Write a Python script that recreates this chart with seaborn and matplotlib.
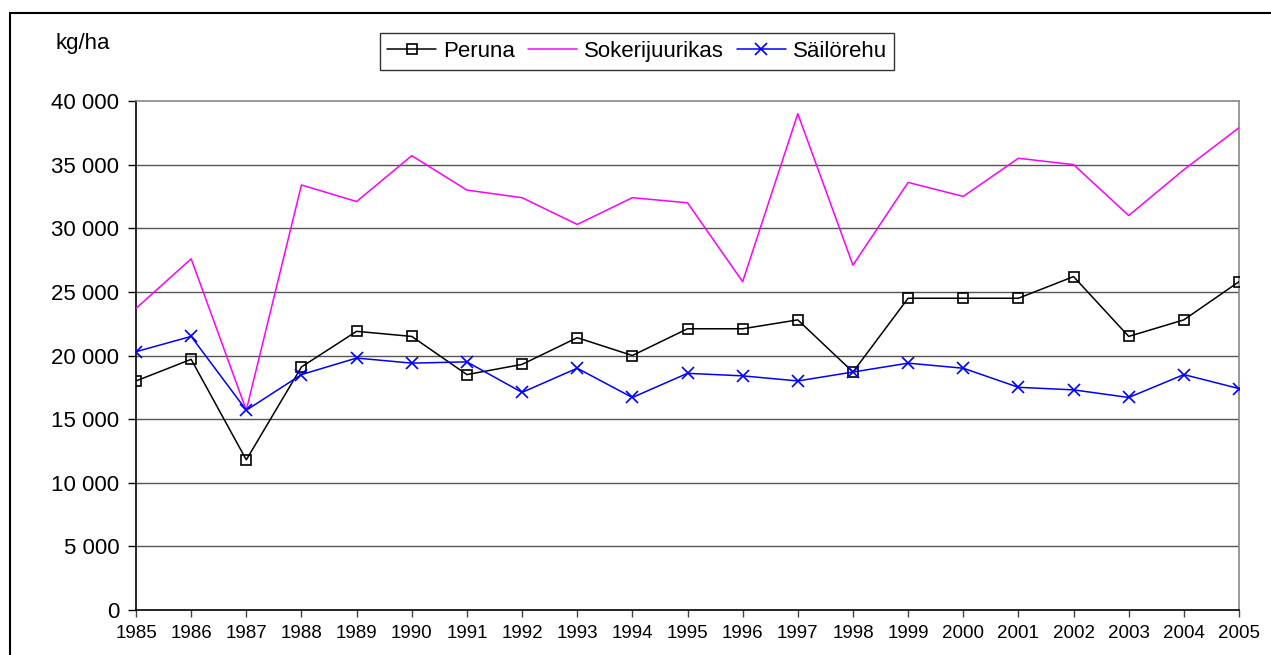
import matplotlib
matplotlib.use("Agg")
import matplotlib.pyplot as plt
import matplotlib.ticker as mticker
from matplotlib.patches import Rectangle
import seaborn as sns
import pandas as pd

years = list(range(1985, 2006))
peruna = [18000, 19700, 11800, 19100, 21900, 21500, 18500, 19300, 21400, 20000,
          22100, 22100, 22800, 18700, 24500, 24500, 24500, 26200, 21500, 22800, 25800]
sokerijuurikas = [23700, 27600, 15700, 33400, 32100, 35700, 33000, 32400, 30300, 32400,
                  32000, 25800, 39000, 27100, 33600, 32500, 35500, 35000, 31000, 34600, 37900]
sailorehu = [20300, 21500, 15700, 18500, 19800, 19400, 19500, 17100, 19000, 16700,
             18600, 18400, 18000, 18700, 19400, 19000, 17500, 17300, 16700, 18500, 17400]
series_names = ["Peruna", "Sokerijuurikas", "Säilörehu"]
y_ticks = [0, 5000, 10000, 15000, 20000, 25000, 30000, 35000, 40000]
unit_label = "kg/ha"

sns.set_theme(style="white")
plt.rcParams['font.family'] = ['Liberation Sans', 'DejaVu Sans']
plt.rcParams['text.color'] = 'black'
plt.rcParams['xtick.color'] = 'black'
plt.rcParams['ytick.color'] = 'black'
plt.rcParams['axes.labelcolor'] = 'black'

df = pd.DataFrame({"year": years, "Peruna": peruna,
                   "Sokerijuurikas": sokerijuurikas, "Säilörehu": sailorehu})

fig = plt.figure(figsize=(12.71, 6.55), dpi=100)
ax = fig.add_axes([136/1271, 1-610/655, (1239-136)/1271, (610-101)/655])

for yv in y_ticks[1:-1]:
    ax.axhline(yv, color="#555555", lw=1.0, zorder=1)

sns.lineplot(data=df, x="year", y="Peruna", ax=ax, color="black", lw=1.1,
             marker="s", markersize=7, markerfacecolor="none", markeredgecolor="black",
             markeredgewidth=1.2, label=series_names[0], zorder=3)
sns.lineplot(data=df, x="year", y="Sokerijuurikas", ax=ax, color="#FF00FF", lw=1.1,
             label=series_names[1], zorder=3)
sns.lineplot(data=df, x="year", y="Säilörehu", ax=ax, color="#0000FF", lw=1.1,
             marker="x", markersize=9, markeredgecolor="#0000FF", markeredgewidth=1.2,
             label=series_names[2], zorder=3)

ax.set_xlim(1985, 2005)
ax.set_ylim(0, 40000)
ax.set_xticks(years)
ax.set_xticklabels([str(y) for y in years], fontsize=13.5)
ax.set_yticks(y_ticks)
ax.yaxis.set_major_formatter(mticker.FuncFormatter(lambda v, p: f"{int(v):,}".replace(",", " ")))
ax.tick_params(axis="y", labelsize=16, length=6, width=1, color="black", labelcolor="black",
               direction="out", left=True, pad=6)
ax.tick_params(axis="x", length=5, width=1, color="#444444", labelcolor="black",
               direction="out", bottom=True, pad=6)
ax.set_xlabel("")
ax.set_ylabel("")

for s in ["left", "bottom"]:
    ax.spines[s].set_color("black")
    ax.spines[s].set_linewidth(1.2)
for s in ["top", "right"]:
    ax.spines[s].set_color("#888888")
    ax.spines[s].set_linewidth(1.2)
    ax.spines[s].set_visible(True)

leg = ax.legend(loc="center", bbox_to_anchor=(637/1271, 1-51.5/655), bbox_transform=fig.transFigure,
                ncol=3, fontsize=16, frameon=True, fancybox=False, handlelength=2.2,
                handletextpad=0.3, columnspacing=0.6, borderpad=0.35, labelcolor="black")
leg.get_frame().set_edgecolor("black")
leg.get_frame().set_linewidth(1.0)

fig.text(83/1271, 1-44/655, unit_label, fontsize=16, ha="center", va="center", color="black")

fig.patches.append(Rectangle((10/1271, -0.1), 2, 1-13/655+0.1, transform=fig.transFigure,
                             fill=False, edgecolor="black", lw=1.5, figure=fig))

fig.savefig("out.png", dpi=100)
